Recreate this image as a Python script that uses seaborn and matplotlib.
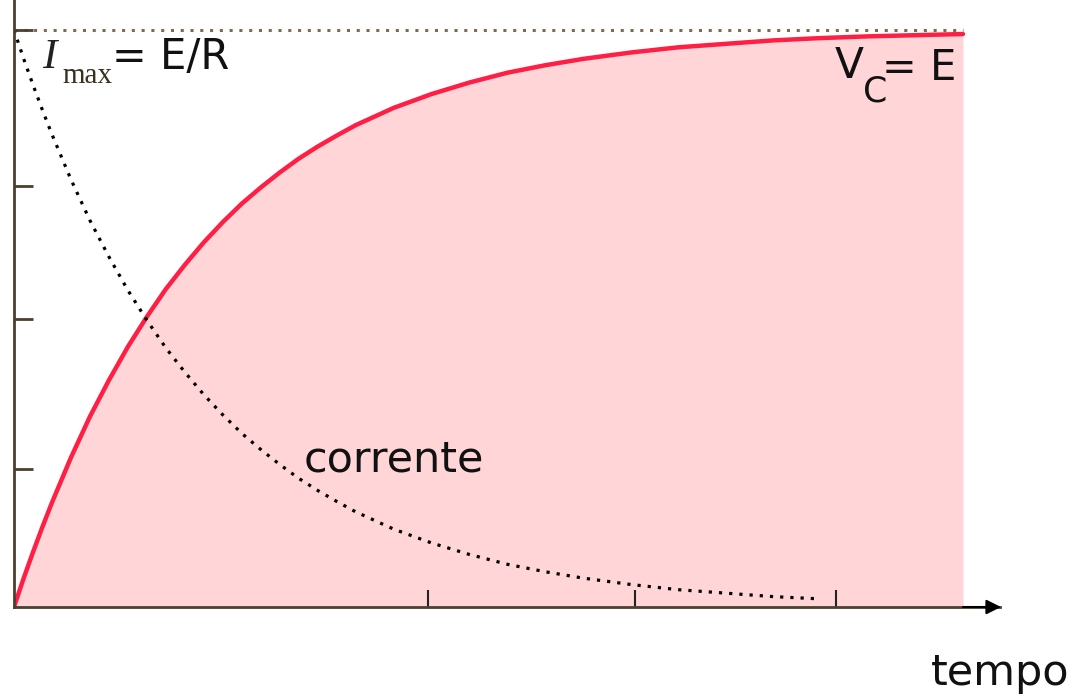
import numpy as np
import pandas as pd
import matplotlib
matplotlib.use("Agg")
import matplotlib.pyplot as plt
import seaborn as sns

# time in units of tau
t_vc = [0.0, 0.05, 0.1, 0.15, 0.2, 0.3, 0.4, 0.5, 0.6, 0.7, 0.8, 0.9, 1.0, 1.1, 1.2,
        1.3, 1.4, 1.5, 1.6, 1.7, 1.8, 1.9, 2.0, 2.2, 2.4, 2.6, 2.8, 3.0, 3.25, 3.5,
        3.75, 4.0, 4.25, 4.5, 4.75, 5.0]
v_c = [0.0, 0.049, 0.095, 0.139, 0.181, 0.259, 0.33, 0.393, 0.451, 0.503, 0.551,
       0.593, 0.632, 0.667, 0.699, 0.727, 0.753, 0.777, 0.798, 0.817, 0.835, 0.850,
       0.865, 0.889, 0.909, 0.926, 0.939, 0.950, 0.961, 0.970, 0.976, 0.982, 0.986,
       0.989, 0.991, 0.993]

t_i = [0.0, 0.05, 0.1, 0.15, 0.2, 0.3, 0.4, 0.5, 0.6, 0.7, 0.8, 0.9, 1.0, 1.1, 1.2,
       1.3, 1.4, 1.5, 1.6, 1.7, 1.8, 1.9, 2.0, 2.2, 2.4, 2.6, 2.8, 3.0, 3.25, 3.5,
       3.75, 4.0, 4.25]
corrente = [1.0, 0.951, 0.905, 0.861, 0.819, 0.741, 0.67, 0.607, 0.549, 0.497, 0.449,
            0.407, 0.368, 0.333, 0.301, 0.273, 0.247, 0.223, 0.202, 0.183, 0.165,
            0.150, 0.135, 0.111, 0.091, 0.074, 0.061, 0.050, 0.039, 0.030, 0.024,
            0.018, 0.014]

y_ticks = [0.24, 0.5, 0.73, 1.0]
x_ticks = [2.18, 3.27, 4.33]
t_end = 5.0
v_max = 1.0

sns.set_style("white")
plt.rcParams['font.family'] = ['DejaVu Sans']

fig = plt.figure(figsize=(10.76, 7.0), dpi=100)
ax = fig.add_axes([14/1076, 93/700, (1000-14)/1076, 607/700])
ax.set_xlim(0, (1000-14)/189.8)
ax.set_ylim(0, 607/577)
ax.set_axisbelow(False)

df_vc = pd.DataFrame({"t": t_vc, "v": v_c})
df_i = pd.DataFrame({"t": t_i, "i": corrente})

ax.fill_between(df_vc["t"], df_vc["v"], 0, color="#ffd5d7", linewidth=0, zorder=1)
sns.lineplot(data=df_vc, x="t", y="v", ax=ax, color="#ff1f44", linewidth=3.2,
             zorder=3, sort=False)
sns.lineplot(data=df_i, x="t", y="i", ax=ax, color="black", linewidth=2.3,
             linestyle=(0, (1, 2.2)), zorder=4, sort=False)
ax.plot([0, t_end], [v_max, v_max], color="#7d6b4c", linewidth=2.2,
        linestyle=(0, (1, 2.2)), zorder=2)

for s in ["top", "right"]:
    ax.spines[s].set_visible(False)
for s in ["left", "bottom"]:
    ax.spines[s].set_color("#4a4030")
    ax.spines[s].set_linewidth(2.0)
    ax.spines[s].set_zorder(5)

ax.set_yticks(y_ticks)
ax.set_xticks(x_ticks)
ax.set_yticklabels([])
ax.set_xticklabels([])
ax.tick_params(axis="y", direction="in", length=14, width=2.0, color="#4a4030", left=True)
ax.tick_params(axis="x", direction="in", length=12, width=1.5, color="#222222",
               bottom=True)
ax.set_xlabel("")
ax.set_ylabel("")

ax.annotate("", xy=(5.2, 0), xytext=(t_end, 0),
            arrowprops=dict(arrowstyle="-|>", color="black", lw=1.5,
                            mutation_scale=22, shrinkA=0, shrinkB=0),
            annotation_clip=False, zorder=6)

fig.text(42/1076, 1 - 58/700, "I", fontsize=31, family="Liberation Serif",
         style="italic", va="center", ha="left", color="#222222")
fig.text(62/1076, 1 - 76/700, "max", fontsize=21, family="Liberation Serif",
         va="center", ha="left", color="#3a3020")
fig.text(112/1076, 1 - 57/700, "= E/R", fontsize=30, va="center", ha="left",
         color="#111111")
fig.text(835/1076, 1 - 66/700, "V", fontsize=30.5, va="center", ha="left",
         color="#111111")
fig.text(863/1076, 1 - 92/700, "C", fontsize=25, va="center", ha="left",
         color="#111111")
fig.text(882/1076, 1 - 68/700, "= E", fontsize=30, va="center", ha="left",
         color="#111111")
fig.text(304/1076, 1 - 459/700, "corrente", fontsize=31, va="center", ha="left",
         color="#111111")
fig.text(931/1076, 1 - 673/700, "tempo", fontsize=31, va="center", ha="left",
         color="#111111")

fig.savefig("out.png", dpi=100)
